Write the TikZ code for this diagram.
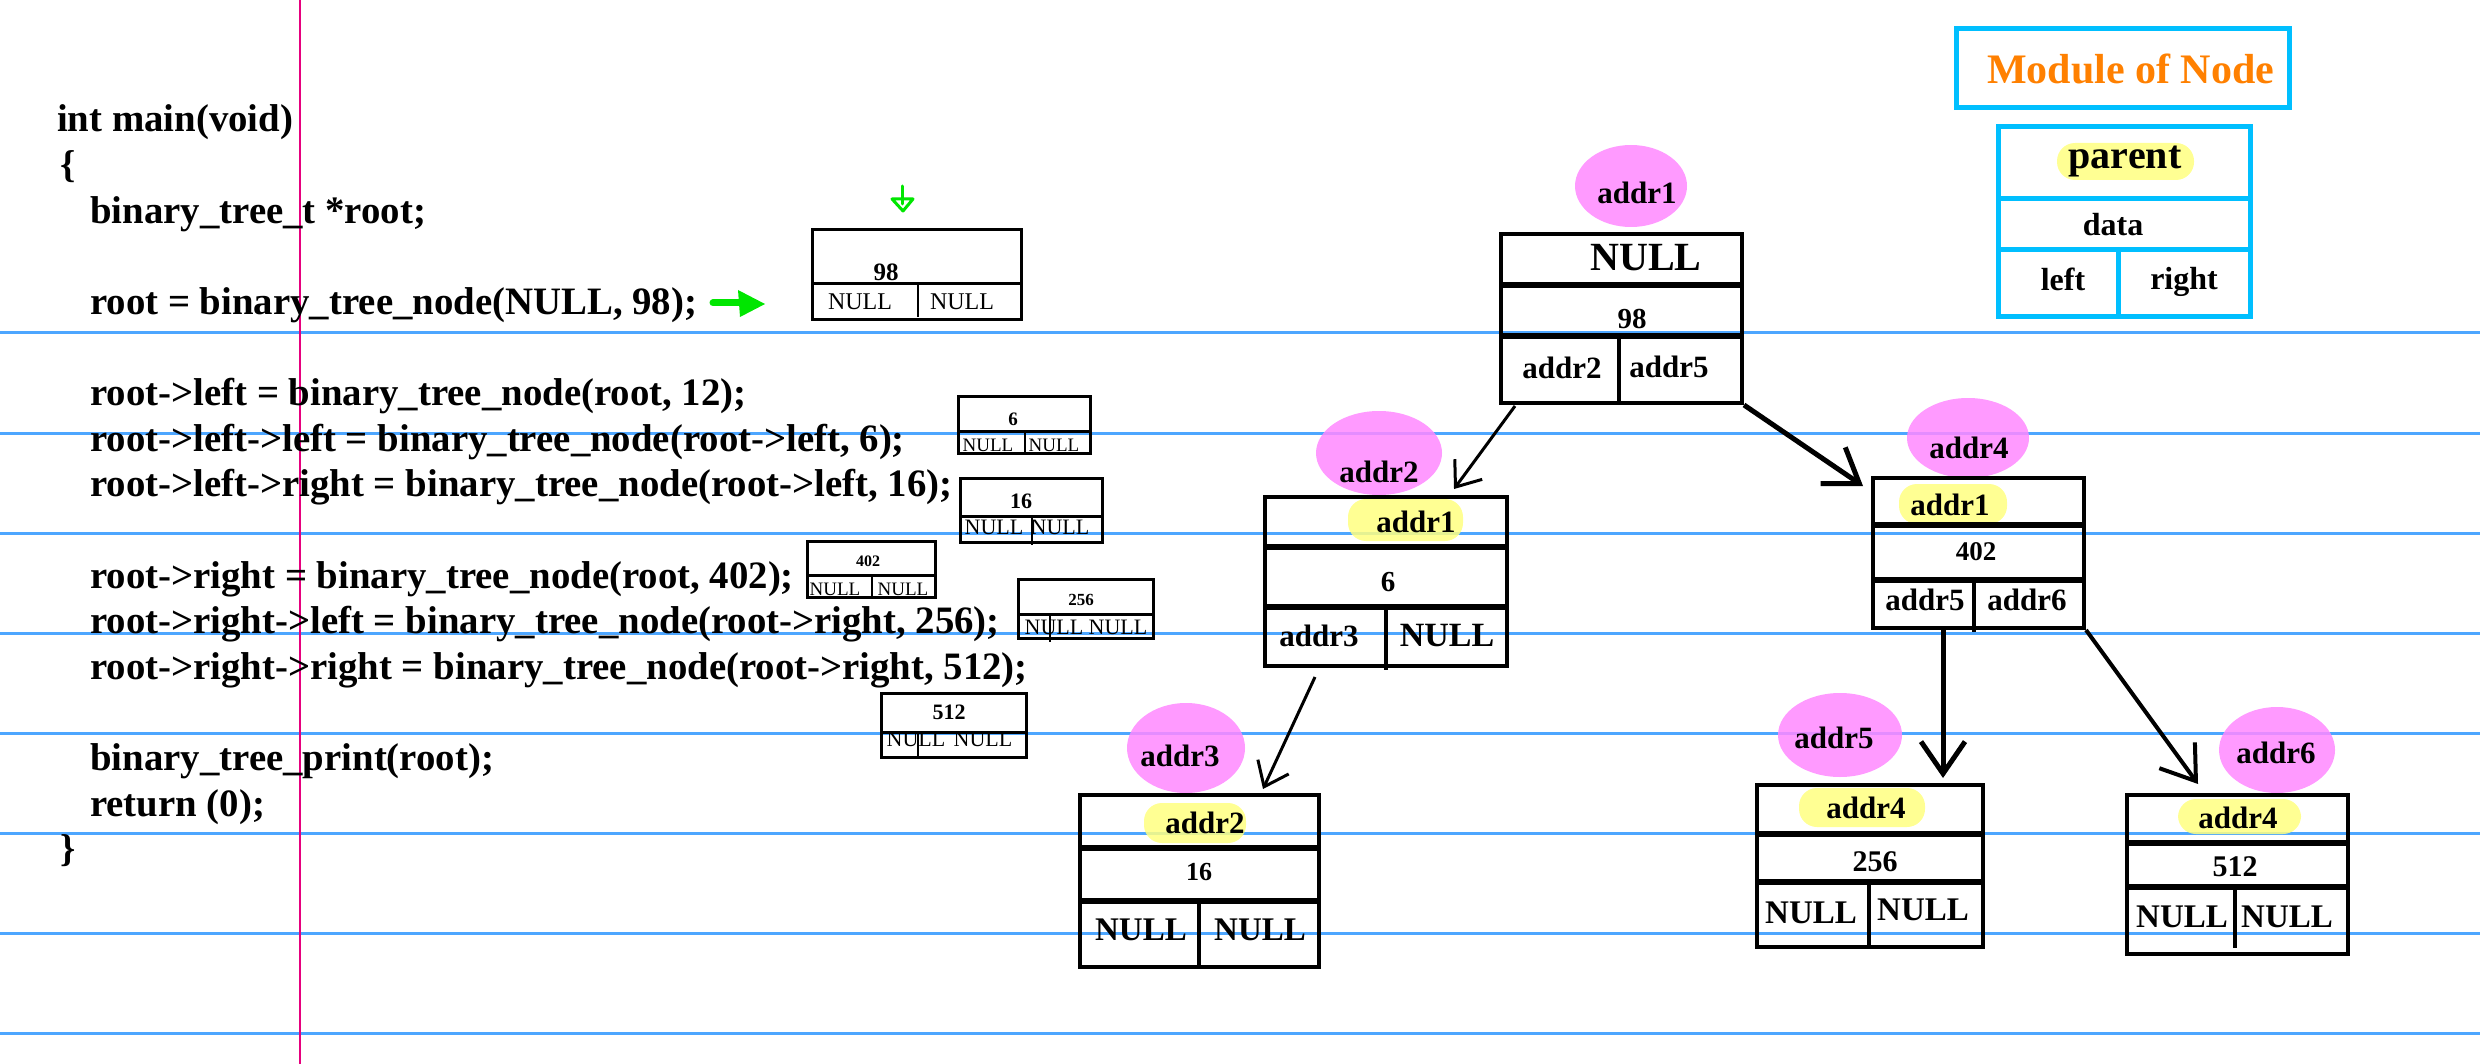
\documentclass[tikz,border=0pt]{standalone}
\usepackage{fontspec}
\setmainfont{Liberation Serif}
\usetikzlibrary{arrows.meta,calc}

\newcommand{\fsz}[1]{\fontsize{#1}{#1}\selectfont}

\definecolor{rulecolor}{RGB}{77,166,255}
\definecolor{margincolor}{RGB}{230,0,126}
\definecolor{blobpink}{RGB}{255,136,255}
\definecolor{hiyellow}{RGB}{255,255,128}
\definecolor{modcyan}{RGB}{0,191,255}
\definecolor{modorange}{RGB}{255,128,0}
\definecolor{pengreen}{RGB}{0,230,0}

\tikzset{
  ruleline/.style={rulecolor, line width=3pt},
  marginline/.style={margincolor, line width=2pt},
  codeline/.style={anchor=base west, inner sep=0pt, font=\fsz{38.8}\bfseries},
  minibox/.style={draw, line width=3pt, inner sep=0pt},
  minisep/.style={line width=3pt},
  minitext/.style={inner sep=0pt, font=\fsz{#1}},
  minidata/.style={inner sep=0pt, font=\fsz{#1}\bfseries},
  treebox/.style={draw, line width=4pt, inner sep=0pt},
  divider/.style={line width=6pt},
  cellsep/.style={line width=4pt},
  celltext/.style={inner sep=0pt, font=\fsz{#1}\bfseries},
  celltext/.default=31,
  blob/.style={blobpink, fill opacity=0.85},
  hilite/.style={hiyellow, fill opacity=0.85, rounded corners=18pt},
  thinlink/.style={-{Straight Barb[length=22pt,width=34pt]}, line width=3pt},
  thicklink/.style={-{Straight Barb[length=32pt,width=44pt]}, line width=5pt},
  modbox/.style={draw=modcyan, line width=5pt, inner sep=0pt},
  modsep/.style={modcyan, line width=5pt},
  penmark/.style={pengreen, line width=3pt, line cap=round, line join=round},
}

\begin{document}
\begin{tikzpicture}[x=1pt, y=-1pt]
  \useasboundingbox (0,0) rectangle (2480,1064);

  % ruled paper
  \draw[ruleline] (0,333) -- (2480,333);
  \draw[ruleline] (0,433) -- (2480,433);
  \draw[ruleline] (0,533) -- (2480,533);
  \draw[ruleline] (0,633) -- (2480,633);
  \draw[ruleline] (0,733) -- (2480,733);
  \draw[ruleline] (0,833) -- (2480,833);
  \draw[ruleline] (0,933) -- (2480,933);
  \draw[ruleline] (0,1033) -- (2480,1033);
  \draw[marginline] (300,0) -- (300,1064);

  % code
  \node[codeline] at (57,132) (c0) {int main(void)};
  \node[codeline] at (60,177.6) (c1) {\{};
  \node[codeline] at (90,223.2) (c2) {binary\_tree\_t *root;};
  \node[codeline] at (90,314.4) (c4) {root = binary\_tree\_node(NULL, 98);};
  \node[codeline] at (90,405.6) (c6) {root->left = binary\_tree\_node(root, 12);};
  \node[codeline] at (90,451.2) (c7) {root->left->left = binary\_tree\_node(root->left, 6);};
  \node[codeline] at (90,496.8) (c8) {root->left->right = binary\_tree\_node(root->left, 16);};
  \node[codeline] at (90,588) (c10) {root->right = binary\_tree\_node(root, 402);};
  \node[codeline] at (90,633.6) (c11) {root->right->left = binary\_tree\_node(root->right, 256);};
  \node[codeline] at (90,679.2) (c12) {root->right->right = binary\_tree\_node(root->right, 512);};
  \node[codeline] at (90,770.4) (c14) {binary\_tree\_print(root);};
  \node[codeline] at (90,816) (c15) {return (0);};
  \node[codeline] at (60,861.6) (c16) {\}};

  % green pen marks
  \draw[penmark] (902,186) -- (902,204);
  \draw[penmark] (892,199) -- (913,199) -- (903,211) -- cycle;
  \draw[penmark, line width=7pt] (713,303) -- (742,303);
  \fill[pengreen] (738,290) -- (765,304) -- (740,317) -- cycle;

  % small boxes beside the code
  \node[minibox, minimum width=209pt, minimum height=90pt] at (916.5,275) (m98) {};
  \draw[minisep] (812,284) -- (1021,284);
  \draw[minisep, line width=2pt] (918,284) -- (918,317);
  \node[minidata=25] at (886,272) (m98d) {98};
  \node[minitext=24] at (860,302) (m98l) {NULL};
  \node[minitext=24] at (962,302) (m98r) {NULL};

  \node[minibox, minimum width=132pt, minimum height=57pt] at (1024,424.5) (m6) {};
  \draw[minisep] (958,431) -- (1090,431);
  \draw[minisep, line width=2pt] (1025,431) -- (1025,453);
  \node[minidata=19] at (1013,419) (m6d) {6};
  \node[minitext=19] at (988,445) (m6l) {NULL};
  \node[minitext=19] at (1054,445) (m6r) {NULL};

  \node[minibox, minimum width=142pt, minimum height=64pt] at (1031,510) (m16) {};
  \draw[minisep] (960,516) -- (1102,516);
  \draw[minisep, line width=2pt] (1032,516) -- (1032,545);
  \node[minidata=22] at (1021,501) (m16d) {16};
  \node[minitext=22] at (994,527) (m16l) {NULL};
  \node[minitext=22] at (1060,527) (m16r) {NULL};

  \node[minibox, minimum width=128pt, minimum height=56pt] at (871,569) (m402) {};
  \draw[minisep] (807,575) -- (935,575);
  \draw[minisep, line width=2pt] (872,575) -- (872,597);
  \node[minidata=16] at (868,561) (m402d) {402};
  \node[minitext=19] at (835,589) (m402l) {NULL};
  \node[minitext=19] at (903,589) (m402r) {NULL};

  \node[minibox, minimum width=135pt, minimum height=59pt] at (1085.5,608.5) (m256) {};
  \draw[minisep] (1018,614) -- (1153,614);
  \draw[minisep, line width=2pt] (1050,614) -- (1050,642);
  \node[minidata=17] at (1081,600) (m256d) {256};
  \node[minitext=22] at (1054,627) (m256l) {NULL};
  \node[minitext=22] at (1118,627) (m256r) {NULL};

  \node[minibox, minimum width=145pt, minimum height=64pt] at (953.5,725) (m512) {};
  \draw[minisep] (881,732) -- (1026,732);
  \draw[minisep, line width=2pt] (918,733) -- (918,758);
  \node[minidata=22] at (949,712) (m512d) {512};
  \node[minitext=22] at (916,739) (m512l) {NULL};
  \node[minitext=22] at (983,739) (m512r) {NULL};

  % address blobs and parent highlights
  \fill[blob] (1631,186) ellipse [x radius=56pt, y radius=41pt];
  \fill[blob] (1379,453) ellipse [x radius=63pt, y radius=42pt];
  \fill[blob] (1968,438) ellipse [x radius=61pt, y radius=40pt];
  \fill[blob] (1186,748) ellipse [x radius=59pt, y radius=45pt];
  \fill[blob] (1840,735) ellipse [x radius=62pt, y radius=42pt];
  \fill[blob] (2277,750) ellipse [x radius=58pt, y radius=43pt];
  \fill[hilite] (1348,499) rectangle (1463,541);
  \fill[hilite] (1899,484) rectangle (2007,524);
  \fill[hilite] (1144,803) rectangle (1246,843);
  \fill[hilite] (1799,788) rectangle (1925,827);
  \fill[hilite] (2178,799) rectangle (2301,834);
  \fill[hilite] (2057,143) rectangle (2194,180);

  \node[celltext] at (1637,193) (a1) {addr1};
  \node[celltext] at (1379,472) (a2) {addr2};
  \node[celltext] at (1969,448) (a4) {addr4};
  \node[celltext] at (1180,756) (a3) {addr3};
  \node[celltext] at (1834,738) (a5) {addr5};
  \node[celltext] at (2276,753) (a6) {addr6};

  % root node 98
  \node[treebox, minimum width=241pt, minimum height=169pt] at (1621.5,318.5) (n98) {};
  \draw[divider] (1501,285) -- (1742,285);
  \draw[divider] (1501,336) -- (1742,336);
  \draw[cellsep] (1619,336) -- (1619,403);
  \node[celltext=40] at (1646,258) (n98p) {NULL};
  \node[celltext=29] at (1632,319) (n98d) {98};
  \node[celltext] at (1562,368) (n98l) {addr2};
  \node[celltext] at (1669,367) (n98r) {addr5};

  % node 6
  \node[treebox, minimum width=242pt, minimum height=169pt] at (1386,581.5) (n6) {};
  \draw[divider] (1265,547) -- (1507,547);
  \draw[divider] (1265,607) -- (1507,607);
  \draw[cellsep] (1386,607) -- (1386,670);
  \node[celltext] at (1416,522) (n6p) {addr1};
  \node[celltext=29] at (1388,582) (n6d) {6};
  \node[celltext] at (1319,636) (n6l) {addr3};
  \node[celltext=34] at (1447,636) (n6r) {NULL};

  % node 402
  \node[treebox, minimum width=211pt, minimum height=150pt] at (1978.5,553) (n402) {};
  \draw[divider] (1873,525) -- (2084,525);
  \draw[divider] (1873,580) -- (2084,580);
  \draw[cellsep] (1974,580) -- (1974,632);
  \node[celltext] at (1950,505) (n402p) {addr1};
  \node[celltext=27] at (1976,552) (n402d) {402};
  \node[celltext] at (1925,600) (n402l) {addr5};
  \node[celltext] at (2027,600) (n402r) {addr6};

  % node 16
  \node[treebox, minimum width=239pt, minimum height=172pt] at (1199.5,881) (n16) {};
  \draw[divider] (1080,848) -- (1319,848);
  \draw[divider] (1080,901) -- (1319,901);
  \draw[cellsep] (1199,901) -- (1199,967);
  \node[celltext] at (1205,823) (n16p) {addr2};
  \node[celltext=26] at (1199,872) (n16d) {16};
  \node[celltext=33] at (1141,930) (n16l) {NULL};
  \node[celltext=33] at (1260,930) (n16r) {NULL};

  % node 256
  \node[treebox, minimum width=226pt, minimum height=162pt] at (1870,866) (n256) {};
  \draw[divider] (1757,834) -- (1983,834);
  \draw[divider] (1757,882) -- (1983,882);
  \draw[cellsep] (1869,882) -- (1869,947);
  \node[celltext] at (1866,808) (n256p) {addr4};
  \node[celltext=30] at (1875,862) (n256d) {256};
  \node[celltext=33] at (1811,913) (n256l) {NULL};
  \node[celltext=33] at (1923,910) (n256r) {NULL};

  % node 512
  \node[treebox, minimum width=221pt, minimum height=159pt] at (2237.5,874.5) (n512) {};
  \draw[divider] (2127,843) -- (2348,843);
  \draw[divider] (2127,887) -- (2348,887);
  \draw[cellsep] (2235,887) -- (2235,948);
  \node[celltext] at (2238,818) (n512p) {addr4};
  \node[celltext=30] at (2235,867) (n512d) {512};
  \node[celltext=33] at (2182,917) (n512l) {NULL};
  \node[celltext=33] at (2287,917) (n512r) {NULL};

  % links
  \draw[thinlink] ($(n98.south west)+(16,1)$) -- ($(n6.north east)+(-55,-6)$);
  \draw[thicklink] (n98.south east) -- ($(n402.north west)+(-8,10)$);
  \draw[thinlink] ($(n6.south west)+(52,9)$) -- ($(n16.north east)+(-58,-4)$);
  \draw[thicklink] ($(n402.south west)+(72,0)$) -- ($(n256.north west)+(188,-5)$);
  \draw[thicklink, line width=4pt] (n402.south east) -- ($(n512.north west)+(73,-9)$);

  % module of node
  \node[modbox, minimum width=333pt, minimum height=79pt, text=modorange,
        font=\fsz{42}\bfseries] at (2122.5,68.5) (title) {\hspace{16pt}Module of Node};
  \node[modbox, minimum width=252pt, minimum height=190pt] at (2124,222) (model) {};
  \draw[modsep] (1998,199) -- (2250,199);
  \draw[modsep] (1998,250) -- (2250,250);
  \draw[modsep] (2118,250) -- (2118,317);
  \node[celltext=40] at (2125,162) (modp) {parent};
  \node[celltext=32] at (2113,225) (modd) {data};
  \node[celltext=32] at (2063,279) (modl) {left};
  \node[celltext=32] at (2184,282) (modr) {right};
\end{tikzpicture}
\end{document}
